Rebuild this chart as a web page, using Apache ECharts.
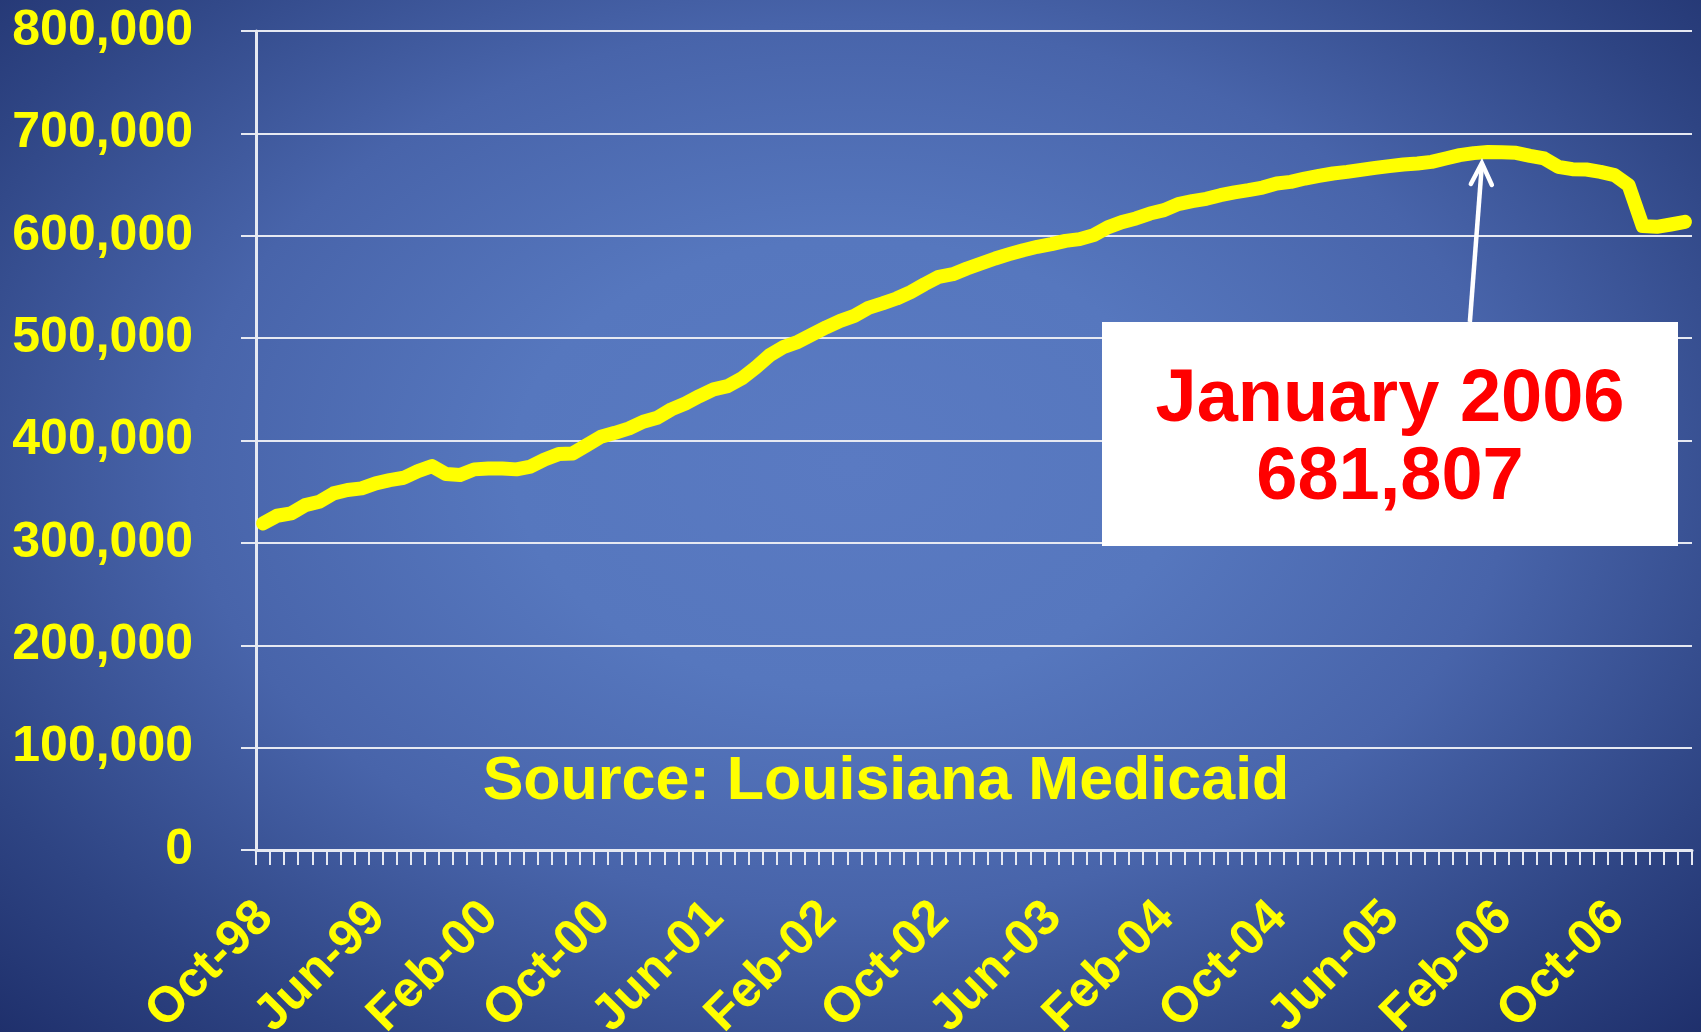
<!DOCTYPE html>
<html><head><meta charset="utf-8">
<script src="https://cdn.jsdelivr.net/npm/echarts@6/dist/echarts.min.js"></script>
<style>
html,body{margin:0;padding:0;width:1701px;height:1032px;overflow:hidden;}
#chart{width:1701px;height:1032px;
background: radial-gradient(ellipse farthest-corner at 50% 45%, #5A7AC2 0%, #5677BE 28%, #4864AA 55%, #2E4483 82%, #1F306C 100%);}
</style></head><body><div id="chart"></div>
<script>
const months = [
 'Oct-98','Nov-98','Dec-98',
 'Jan-99','Feb-99','Mar-99','Apr-99','May-99','Jun-99','Jul-99','Aug-99','Sep-99','Oct-99','Nov-99','Dec-99',
 'Jan-00','Feb-00','Mar-00','Apr-00','May-00','Jun-00','Jul-00','Aug-00','Sep-00','Oct-00','Nov-00','Dec-00',
 'Jan-01','Feb-01','Mar-01','Apr-01','May-01','Jun-01','Jul-01','Aug-01','Sep-01','Oct-01','Nov-01','Dec-01',
 'Jan-02','Feb-02','Mar-02','Apr-02','May-02','Jun-02','Jul-02','Aug-02','Sep-02','Oct-02','Nov-02','Dec-02',
 'Jan-03','Feb-03','Mar-03','Apr-03','May-03','Jun-03','Jul-03','Aug-03','Sep-03','Oct-03','Nov-03','Dec-03',
 'Jan-04','Feb-04','Mar-04','Apr-04','May-04','Jun-04','Jul-04','Aug-04','Sep-04','Oct-04','Nov-04','Dec-04',
 'Jan-05','Feb-05','Mar-05','Apr-05','May-05','Jun-05','Jul-05','Aug-05','Sep-05','Oct-05','Nov-05','Dec-05',
 'Jan-06','Feb-06','Mar-06','Apr-06','May-06','Jun-06','Jul-06','Aug-06','Sep-06','Oct-06','Nov-06','Dec-06',
 'Jan-07','Feb-07','Mar-07'
];
const enrollment = [
 319000,326500,328800,
 336900,340200,348300,351600,353200,358100,361300,363600,370100,375000,367200,366200,
 371800,372700,372700,371800,374500,381500,386700,387400,395500,403600,407500,411800,
 418300,422200,430400,436200,443400,449900,453100,460600,471400,483400,491500,496400,
 503600,510600,516900,521800,529600,533900,538700,544900,552700,559900,562500,568000,
 572900,577800,582000,585900,589200,591800,595000,596700,600600,608200,613300,616900,
 621700,625000,630900,633800,636100,639600,642300,644500,647100,651000,652600,655900,
 658500,660800,662400,664400,666300,668000,669600,670600,672200,675500,678700,680700,
 681807,681500,681000,678000,675500,667300,665000,664700,662400,659200,649400,609400,
 608700,611000,613600
];
const yTicks = [0,100000,200000,300000,400000,500000,600000,700000,800000];
const sourceText = 'Source: Louisiana Medicaid';
const peakMonthLabel = 'January 2006';

const FONT = "'Liberation Sans', Arial, sans-serif";
const chart = echarts.init(document.getElementById('chart'));
const option = {
  backgroundColor: 'transparent',
  animation: false,
  grid: {left: 256, right: 9, top: 31, bottom: 182, containLabel: false, outerBoundsMode: 'none'},
  xAxis: {
    type: 'category', data: months, boundaryGap: true,
    axisLine: {lineStyle: {color: '#E6E9F2', width: 3}},
    axisTick: {show: true, interval: 0, length: 15, lineStyle: {color: '#E6E9F2', width: 2}},
    axisLabel: {interval: 7, rotate: 45, color: '#FFFF00', fontSize: 50, fontWeight: 'bold',
      fontFamily: FONT, margin: 62, padding: [0, -3, 0, 0]},
    splitLine: {show: false}
  },
  yAxis: {
    type: 'value', min: yTicks[0], max: yTicks[yTicks.length-1], interval: yTicks[1]-yTicks[0],
    axisLine: {show: true, lineStyle: {color: '#E6E9F2', width: 3}},
    axisTick: {show: true, length: 15, lineStyle: {color: '#E6E9F2', width: 2}},
    axisLabel: {color: '#FFFF00', fontSize: 50, fontWeight: 'bold', fontFamily: FONT, margin: 63,
      formatter: v => v.toLocaleString('en-US')},
    splitLine: {show: true, lineStyle: {color: '#E6E9F2', width: 2}}
  },
  series: [{
    type: 'line', data: enrollment, symbol: 'none', smooth: false,
    lineStyle: {color: '#FFFF00', width: 14, cap: 'round', join: 'round'},
    z: 5
  }]
};
chart.setOption(option);

const peakIdx = enrollment.indexOf(Math.max(...enrollment));
const p = chart.convertToPixel({seriesIndex: 0}, [peakIdx, enrollment[peakIdx]]);
const tip = [p[0] - 6, p[1] + 11];
const box = {x: 1102, y: 322, w: 576, h: 224};
chart.setOption({
  graphic: [
    {type: 'rect', z: 100, shape: {x: box.x, y: box.y, width: box.w, height: box.h}, style: {fill: '#FFFFFF'}},
    {type: 'text', z: 101, style: {x: box.x + box.w/2, y: box.y + box.h/2 + 6,
      text: peakMonthLabel + '\n' + enrollment[peakIdx].toLocaleString('en-US'),
      font: 'bold 74px ' + FONT, fill: '#FF0000', align: 'center', verticalAlign: 'middle',
      textAlign: 'center', textVerticalAlign: 'middle', lineHeight: 78}},
    {type: 'line', z: 102, shape: {x1: tip[0] - 12, y1: box.y, x2: tip[0], y2: tip[1] + 2},
      style: {stroke: '#FFFFFF', lineWidth: 4.5}},
    {type: 'polyline', z: 102, shape: {points: [[tip[0] - 11, tip[1] + 21], [tip[0], tip[1]], [tip[0] + 10, tip[1] + 22]]},
      style: {stroke: '#FFFFFF', lineWidth: 4.5, fill: null, lineJoin: 'miter', lineCap: 'round'}},
    {type: 'text', z: 101, style: {x: 886, y: 782, text: sourceText, font: 'bold 61px ' + FONT,
      fill: '#FFFF00', align: 'center', verticalAlign: 'middle', textAlign: 'center', textVerticalAlign: 'middle'}}
  ]
});
</script></body></html>
